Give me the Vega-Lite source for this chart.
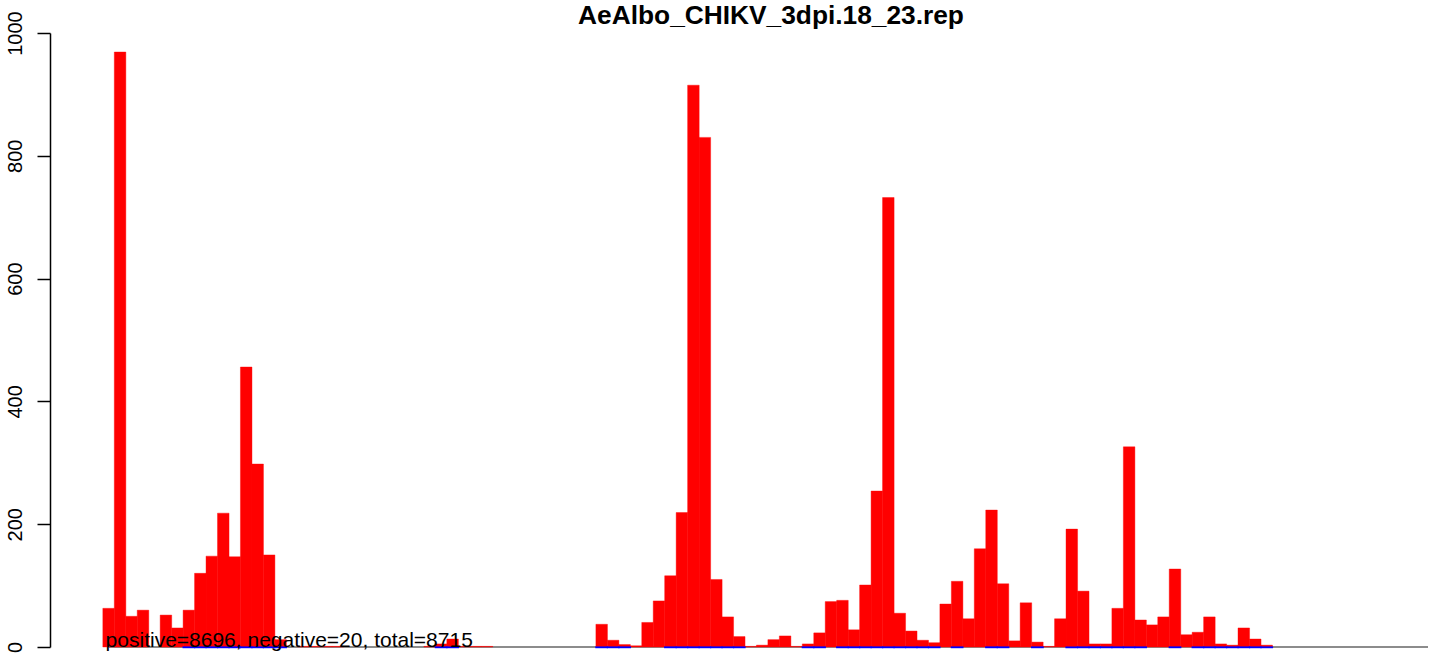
{
  "$schema": "https://vega.github.io/schema/vega-lite/v6.json",
  "width": 1383,
  "height": 614,
  "autosize": {"type": "none"},
  "padding": {"left": 50, "top": 33, "right": 0, "bottom": 6},
  "background": "white",
  "config": {"view": {"stroke": null}},
  "title": {
    "text": "AeAlbo_CHIKV_3dpi.18_23.rep",
    "font": "Liberation Sans",
    "fontSize": 26.3,
    "fontWeight": "bold",
    "color": "black",
    "anchor": "middle",
    "frame": "group",
    "dx": 29.5,
    "baseline": "alphabetic",
    "offset": -39.5
  },
  "data": {
    "values": [
      {"bin": 0, "pos": 63, "neg": 0},
      {"bin": 1, "pos": 969, "neg": 0},
      {"bin": 2, "pos": 50, "neg": 0},
      {"bin": 3, "pos": 60, "neg": 0},
      {"bin": 5, "pos": 52, "neg": 0},
      {"bin": 6, "pos": 31, "neg": 0},
      {"bin": 7, "pos": 60, "neg": -1},
      {"bin": 8, "pos": 120, "neg": -1},
      {"bin": 9, "pos": 148, "neg": -1},
      {"bin": 10, "pos": 218, "neg": -1},
      {"bin": 11, "pos": 147, "neg": -1},
      {"bin": 12, "pos": 456, "neg": -1},
      {"bin": 13, "pos": 298, "neg": -1},
      {"bin": 14, "pos": 150, "neg": -1},
      {"bin": 15, "pos": 12, "neg": -1},
      {"bin": 17, "pos": 1, "neg": 0},
      {"bin": 18, "pos": 1, "neg": 0},
      {"bin": 19, "pos": 1, "neg": 0},
      {"bin": 20, "pos": 1, "neg": 0},
      {"bin": 28, "pos": 1, "neg": 0},
      {"bin": 29, "pos": 5, "neg": -1},
      {"bin": 30, "pos": 13, "neg": -1},
      {"bin": 31, "pos": 1, "neg": 0},
      {"bin": 32, "pos": 1, "neg": 0},
      {"bin": 33, "pos": 1, "neg": 0},
      {"bin": 43, "pos": 37, "neg": -1},
      {"bin": 44, "pos": 11, "neg": -1},
      {"bin": 45, "pos": 4, "neg": -1},
      {"bin": 46, "pos": 2, "neg": 0},
      {"bin": 47, "pos": 40, "neg": 0},
      {"bin": 48, "pos": 75, "neg": 0},
      {"bin": 49, "pos": 116, "neg": -1},
      {"bin": 50, "pos": 219, "neg": -1},
      {"bin": 51, "pos": 915, "neg": -1},
      {"bin": 52, "pos": 830, "neg": -1},
      {"bin": 53, "pos": 110, "neg": -1},
      {"bin": 54, "pos": 49, "neg": -1},
      {"bin": 55, "pos": 17, "neg": -1},
      {"bin": 56, "pos": 1, "neg": 0},
      {"bin": 57, "pos": 3, "neg": 0},
      {"bin": 58, "pos": 12, "neg": 0},
      {"bin": 59, "pos": 18, "neg": 0},
      {"bin": 60, "pos": 1, "neg": 0},
      {"bin": 61, "pos": 5, "neg": -1},
      {"bin": 62, "pos": 23, "neg": -1},
      {"bin": 63, "pos": 74, "neg": 0},
      {"bin": 64, "pos": 76, "neg": -1},
      {"bin": 65, "pos": 28, "neg": -1},
      {"bin": 66, "pos": 101, "neg": -1},
      {"bin": 67, "pos": 254, "neg": -1},
      {"bin": 68, "pos": 732, "neg": -1},
      {"bin": 69, "pos": 55, "neg": -1},
      {"bin": 70, "pos": 26, "neg": -1},
      {"bin": 71, "pos": 11, "neg": -1},
      {"bin": 72, "pos": 7, "neg": -1},
      {"bin": 73, "pos": 70, "neg": 0},
      {"bin": 74, "pos": 107, "neg": -1},
      {"bin": 75, "pos": 46, "neg": 0},
      {"bin": 76, "pos": 160, "neg": 0},
      {"bin": 77, "pos": 223, "neg": -1},
      {"bin": 78, "pos": 103, "neg": -1},
      {"bin": 79, "pos": 10, "neg": 0},
      {"bin": 80, "pos": 72, "neg": 0},
      {"bin": 81, "pos": 8, "neg": -1},
      {"bin": 82, "pos": 1, "neg": 0},
      {"bin": 83, "pos": 46, "neg": 0},
      {"bin": 84, "pos": 192, "neg": -1},
      {"bin": 85, "pos": 91, "neg": -1},
      {"bin": 86, "pos": 5, "neg": -1},
      {"bin": 87, "pos": 5, "neg": -1},
      {"bin": 88, "pos": 63, "neg": -1},
      {"bin": 89, "pos": 326, "neg": -1},
      {"bin": 90, "pos": 44, "neg": -1},
      {"bin": 91, "pos": 36, "neg": 0},
      {"bin": 92, "pos": 49, "neg": 0},
      {"bin": 93, "pos": 127, "neg": -1},
      {"bin": 94, "pos": 20, "neg": 0},
      {"bin": 95, "pos": 24, "neg": -1},
      {"bin": 96, "pos": 49, "neg": -1},
      {"bin": 97, "pos": 5, "neg": -1},
      {"bin": 98, "pos": 3, "neg": -1},
      {"bin": 99, "pos": 31, "neg": -1},
      {"bin": 100, "pos": 13, "neg": -1},
      {"bin": 101, "pos": 3, "neg": -1}
    ]
  },
  "encoding": {
    "x": {
      "field": "bin",
      "type": "quantitative",
      "scale": {"domain": [-4.675, 115.065], "nice": false, "zero": false},
      "axis": null
    }
  },
  "layer": [
    {
      "transform": [{"filter": "datum.bin == 0"}],
      "mark": {"type": "rule", "color": "#666666", "strokeWidth": 1.5},
      "encoding": {
        "x": {"datum": 0, "type": "quantitative"},
        "x2": {"datum": 115.065},
        "y": {"datum": 0, "type": "quantitative"}
      }
    },
    {
      "mark": {"type": "bar", "color": "#FF0000", "stroke": "#FF0000", "strokeWidth": 0.4, "width": 11.55},
      "encoding": {
        "y": {
          "field": "pos",
          "type": "quantitative",
          "scale": {"domain": [0, 1000], "nice": false},
          "axis": {
            "values": [0, 200, 400, 600, 800, 1000],
            "format": "d",
            "title": null,
            "grid": false,
            "domainColor": "black",
            "domainWidth": 1.5,
            "tickColor": "black",
            "tickWidth": 1.5,
            "tickSize": 13,
            "labelAngle": -90,
            "labelAlign": "center",
            "labelBaseline": "alphabetic",
            "labelPadding": 16,
            "labelFont": "Liberation Sans",
            "labelFontSize": 20,
            "labelColor": "black",
            "labelFlush": false,
            "labelOverlap": false
          }
        }
      }
    },
    {
      "mark": {"type": "bar", "color": "#0000FF", "stroke": "#0000FF", "strokeWidth": 1.2, "width": 11.55},
      "transform": [{"filter": "datum.neg < 0"}],
      "encoding": {
        "y": {"field": "neg", "type": "quantitative"}
      }
    },
    {
      "transform": [{"filter": "datum.bin == 0"}],
      "mark": {
        "type": "text",
        "text": "positive=8696, negative=20, total=8715",
        "align": "left",
        "baseline": "alphabetic",
        "dx": -3,
        "font": "Liberation Sans",
        "fontSize": 21,
        "color": "black"
      },
      "encoding": {
        "x": {"datum": 0, "type": "quantitative"},
        "y": {"datum": 0, "type": "quantitative"}
      }
    }
  ]
}
